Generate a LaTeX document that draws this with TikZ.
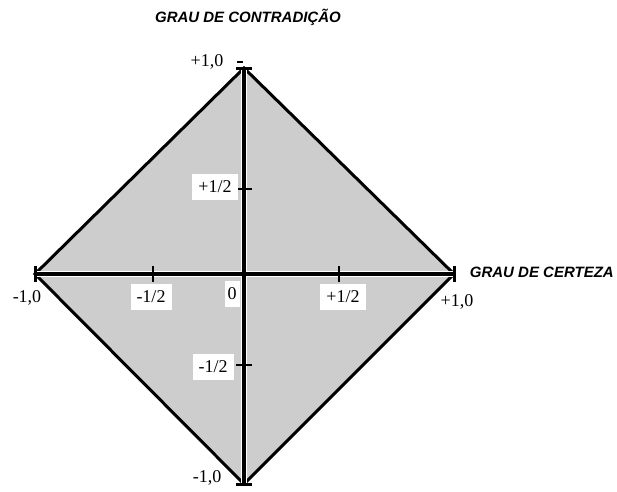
\documentclass[tikz,border=0pt]{standalone}
\usepackage{fontspec}
\setmainfont{Liberation Serif}
\newfontfamily\titlefont{Liberation Sans}
\definecolor{fillgray}{HTML}{CDCDCD}
\tikzset{
  diamondedge/.style={draw=black,line width=3pt,line join=miter},
  axishalo/.style={draw=white,line width=6.5pt},
  axisline/.style={draw=black,line width=3.5pt},
  tickmark/.style={draw=black,line width=1.6pt},
  endbar/.style={draw=black,line width=3pt},
  ticklabel/.style={fill=white,inner xsep=6pt,inner ysep=6.5pt,font=\fontsize{18}{20}\selectfont},
  endlabel/.style={inner sep=0pt,font=\fontsize{18}{20}\selectfont},
  axistitle/.style={inner sep=0pt,font=\titlefont\bfseries\itshape\fontsize{15}{17}\selectfont}
}
\begin{document}
\begin{tikzpicture}[x=1pt,y=-1pt]
\useasboundingbox (0,0) rectangle (617,491);
\coordinate (C) at (244,274);
\coordinate (L) at (35,274);
\coordinate (R) at (454,274);
\coordinate (T) at (244,68);
\coordinate (B) at (244,484);
% diamond
\fill[fillgray] (L) -- (T) -- (R) -- (B) -- cycle;
\draw[diamondedge] (L) -- (T) -- (R) -- (B) -- cycle;
% axes
\draw[axishalo] (L) -- (R);
\draw[axishalo] (T) -- (B);
\draw[axisline] (L) -- (R);
\draw[axisline] (T) -- (B);
% end bars
\draw[endbar] ([yshift=-8]L) -- ([yshift=8]L);
\draw[endbar] ([yshift=-8]R) -- ([yshift=8]R);
\draw[endbar] ([xshift=-8]T) -- ([xshift=8]T);
\draw[endbar] ([xshift=-8]B) -- ([xshift=8]B);
\draw[line width=1.2pt] (237,62) -- (243,62);
% ticks
\coordinate (hm) at (153,274);
\coordinate (hp) at (339,274);
\coordinate (vp) at (244,189);
\coordinate (vm) at (244,365);
\draw[tickmark] ([yshift=-8]hm) -- ([yshift=8]hm);
\draw[tickmark] ([yshift=-8]hp) -- ([yshift=8]hp);
\draw[tickmark] ([xshift=-8]vp) -- ([xshift=8]vp);
\draw[tickmark] ([xshift=-8]vm) -- ([xshift=8]vm);
% tick labels
\node[ticklabel] (lhm) at (151,297) {-1/2};
\node[ticklabel] (lhp) at (343,297) {+1/2};
\node[ticklabel] (lvp) at (215,187) {+1/2};
\node[ticklabel] (lvm) at (213,367) {-1/2};
\node[ticklabel,inner xsep=3pt] (l0) at (232,294) {0};
% end labels
\node[endlabel] (ltop) at (207,62) {+1,0};
\node[endlabel] (lleft) at (27,298) {-1,0};
\node[endlabel] (lright) at (457,302) {+1,0};
\node[endlabel] (lbot) at (207,478) {-1,0};
% titles
\node[axistitle] (tc) at (248,17) {GRAU DE CONTRADIÇÃO};
\node[axistitle,anchor=east] (tx) at (614,272) {GRAU DE CERTEZA};
\end{tikzpicture}
\end{document}
